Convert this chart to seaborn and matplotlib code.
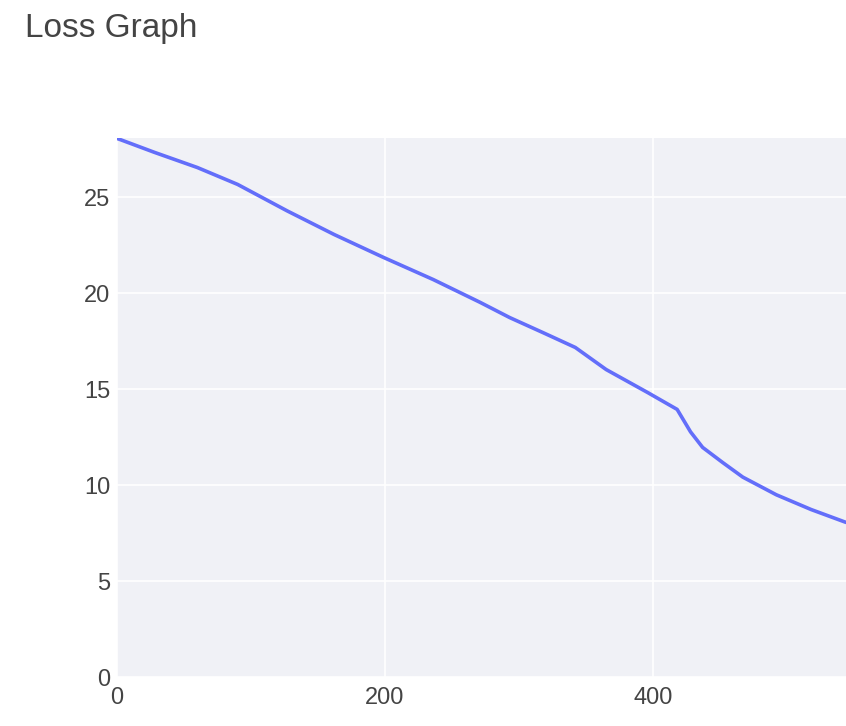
import matplotlib
matplotlib.use("Agg")
import matplotlib.pyplot as plt
import seaborn as sns
import pandas as pd

# loss values
epochs = [0, 28, 60, 90, 127, 162, 199, 236, 271, 293, 318, 342, 365, 396,
          418, 428, 437, 452, 467, 492, 518, 544]
loss = [28.08, 27.35, 26.56, 25.68, 24.3, 23.07, 21.87, 20.72, 19.53, 18.74,
        17.95, 17.18, 16.03, 14.83, 13.95, 12.78, 11.97, 11.18, 10.42, 9.5,
        8.73, 8.06]
x_ticks = [0, 200, 400]
y_ticks = [0, 5, 10, 15, 20, 25]

df = pd.DataFrame({"epoch": epochs, "loss": loss})

sns.set_theme(style="darkgrid")
plt.rcParams["font.family"] = ["Liberation Sans", "DejaVu Sans"]

fig = plt.figure(figsize=(8.46, 7.26), dpi=100)
ax = fig.add_axes([117 / 846, 49 / 726, 1 - 117 / 846, 539 / 726])
ax.set_facecolor("#F0F1F6")

sns.lineplot(data=df, x="epoch", y="loss", ax=ax, color="#636EFA", linewidth=2.6)

ax.set_xlim(0, 544)
ax.set_ylim(0, 28.1)
ax.set_xticks(x_ticks)
ax.set_yticks(y_ticks)
ax.grid(True, color="white", linewidth=1.2)
for s in ax.spines.values():
    s.set_visible(False)
ax.tick_params(axis="both", length=0, labelsize=17, labelcolor="#444444")
ax.tick_params(axis="x", pad=7)
ax.tick_params(axis="y", pad=5)
ax.set_xlabel("")
ax.set_ylabel("")

fig.text(25 / 846, 1 - 37 / 726, "Loss Graph", fontsize=24, color="#444444",
         ha="left", va="baseline")

fig.savefig("out.png", dpi=100)
